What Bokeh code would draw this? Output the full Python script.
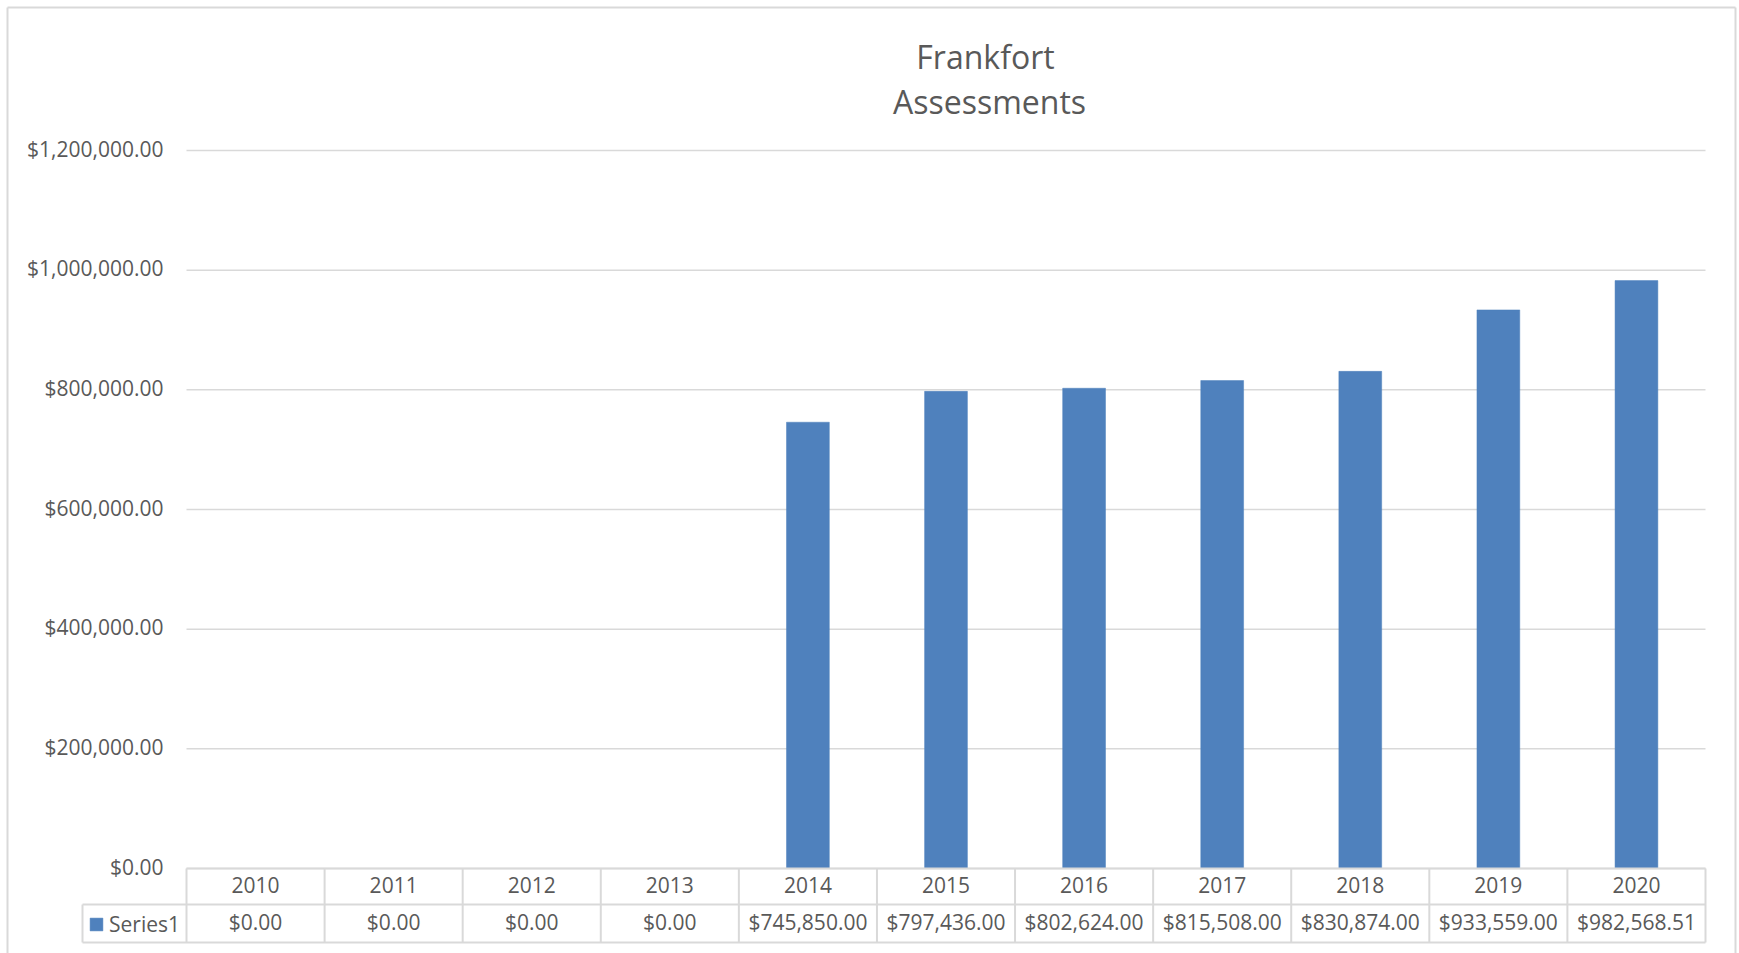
from bokeh.plotting import figure
from bokeh.models import ColumnDataSource, Range1d, Label, Legend, LegendItem
from bokeh.core.properties import value
from bokeh.embed import file_html
from bokeh.resources import INLINE

# ---- data -------------------------------------------------------------
years = ["2010", "2011", "2012", "2013", "2014", "2015",
         "2016", "2017", "2018", "2019", "2020"]
assessments = [0.00, 0.00, 0.00, 0.00, 745850.00, 797436.00,
               802624.00, 815508.00, 830874.00, 933559.00, 982568.51]
y_ticks = [0, 200000, 400000, 600000, 800000, 1000000, 1200000]
series_name = "Series1"
title_lines = ["Frankfort", "Assessments"]

# ---- layout constants (pixels) -----------------------------------------
W, H = 1739, 953
PLOT_L, PLOT_R, PLOT_T = 186, 1705, 150
ZERO_PX = 868                      # pixel row of the value axis zero
ROW1_BOTTOM, ROW2_BOTTOM = 904, 942
LEGEND_CELL_L = 82
TICK_LABEL_R = 163
FONT = "Open Sans"
TEXT = "#595959"
RULE = "#d9d9d9"
BAR = "#4f81bd"

n = len(years)
y_max = y_ticks[-1]
px_per_x = (PLOT_R - PLOT_L) / n
px_per_y = (ZERO_PX - PLOT_T) / y_max


def dx(px):
    """canvas x pixel -> category axis coordinate (category i spans i..i+1)"""
    return (px - PLOT_L) / px_per_x


def dy(py):
    """canvas y pixel -> value coordinate"""
    return (ZERO_PX - py) / px_per_y


# the frame covers the whole canvas so the data table, legend key and
# title can all sit on the same scales as the bars
p = figure(width=W, height=H,
           x_range=Range1d(dx(0), dx(W)), y_range=Range1d(dy(H), dy(0)),
           x_axis_location=None, y_axis_location=None,
           output_backend="svg", toolbar_location=None,
           min_border=0)
p.outline_line_color = None
p.grid.visible = False
p.background_fill_color = "white"
p.border_fill_color = "white"

xc = [i + 0.5 for i in range(n)]   # category centres

# horizontal value gridlines
p.segment(x0=[0] * len(y_ticks), x1=[n] * len(y_ticks), y0=y_ticks, y1=y_ticks,
          line_color=RULE, line_width=1.5)

# value-axis tick labels
p.text(x=[dx(TICK_LABEL_R)] * len(y_ticks), y=y_ticks,
       text=[f"${t:,.2f}" for t in y_ticks], text_font=value(FONT),
       text_font_size="21px", text_color=TEXT, text_align="right",
       text_baseline="middle", y_offset=-2)

# bars
src = ColumnDataSource(dict(x=xc, amount=assessments))
bars = p.vbar(x="x", top="amount", width=0.31, bottom=0, source=src,
              fill_color=BAR, line_color=BAR, line_width=0.5)

# data table under the chart
row1_y = dy((ZERO_PX + ROW1_BOTTOM) / 2 - 1.5)
row2_y = dy((ROW1_BOTTOM + ROW2_BOTTOM) / 2 - 1.5)
labels = [f"${v:,.2f}" for v in assessments]
p.text(x=xc, y=[row1_y] * n, text=years, text_font=value(FONT),
       text_font_size="21px", text_color=TEXT, text_align="center",
       text_baseline="middle")
p.text(x=xc, y=[row2_y] * n, text=labels, text_font=value(FONT),
       text_font_size="21px", text_color=TEXT, text_align="center",
       text_baseline="middle")

x0, y0, x1, y1 = [], [], [], []
# table horizontal rules
for xa, ya in [(0, 0), (dx(LEGEND_CELL_L), dy(ROW1_BOTTOM)),
               (dx(LEGEND_CELL_L), dy(ROW2_BOTTOM))]:
    x0.append(xa); y0.append(ya); x1.append(n); y1.append(ya)
# table column rules
for k in range(n + 1):
    x0.append(k); y0.append(0); x1.append(k); y1.append(dy(ROW2_BOTTOM))
# legend cell left edge
x0.append(dx(LEGEND_CELL_L)); y0.append(dy(ROW1_BOTTOM))
x1.append(dx(LEGEND_CELL_L)); y1.append(dy(ROW2_BOTTOM))
p.segment(x0=x0, y0=y0, x1=x1, y1=y1, line_color=RULE, line_width=2)

# outer chart border (left, top, right; the bottom runs off the page)
bl, br, bt, bb = dx(7), dx(1735), dy(7), dy(H + 10)
p.segment(x0=[bl, bl, br], y0=[bb, bt, bt], x1=[bl, br, br], y1=[bt, bt, bb],
          line_color=RULE, line_width=2)

# legend key in the table's first column
legend = Legend(items=[LegendItem(label=series_name, renderers=[bars])],
                location=(LEGEND_CELL_L + 6, H - ROW2_BOTTOM + 4),
                margin=0, padding=6, glyph_width=16, glyph_height=16,
                label_standoff=5, label_text_font=FONT, label_text_font_size="21px",
                label_text_color=TEXT, border_line_color=None,
                background_fill_alpha=0)
p.add_layout(legend, "center")

# chart title
for line, cx, base in [(title_lines[0], 985, 56), (title_lines[1], 989, 101)]:
    p.add_layout(Label(x=dx(cx), y=dy(base), text=line, text_font=FONT,
                       text_font_size="32px", text_color=TEXT,
                       text_align="center", text_baseline="alphabetic"))

open("out.html", "w").write(file_html(p, INLINE))
